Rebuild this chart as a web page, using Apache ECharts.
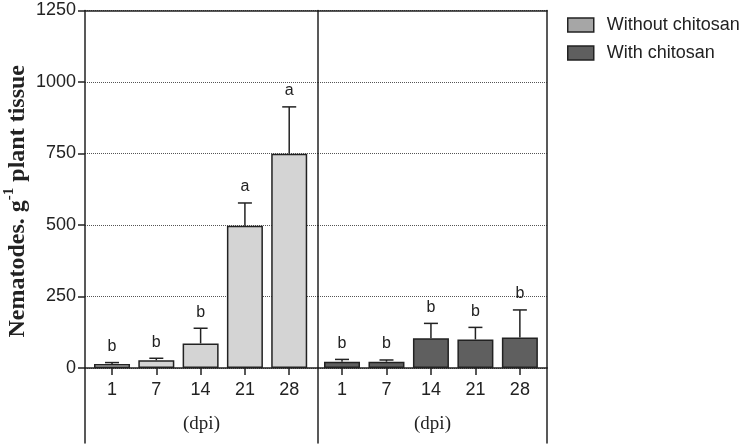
<!DOCTYPE html>
<html>
<head>
<meta charset="utf-8">
<script src="https://cdn.jsdelivr.net/npm/echarts@6/dist/echarts.min.js"></script>
<style>
  html, body { margin: 0; padding: 0; background: #fff; }
  #chart { width: 749px; height: 447px; }
</style>
</head>
<body>
<div id="chart"></div>
<script>
// days post inoculation
const dpiLabels = ["1", "7", "14", "21", "28"];
const dpiPos = [1, 2, 3, 4, 5];

// nematodes per g plant tissue (mean, error bar, letter)
const withoutMean = [14, 27, 86, 497, 749];
const withoutErr = [5, 7, 53, 80, 164];
const withoutLetters = ["b", "b", "b", "a", "a"];

const withMean = [22, 22, 104, 100, 107];
const withErr = [8, 6, 52, 42, 96];
const withLetters = ["b", "b", "b", "b", "b"];

const ink = "#222";
const sans = "'Liberation Sans', Arial, sans-serif";
const serif = "'Liberation Serif', 'Times New Roman', serif";

const chart = echarts.init(document.getElementById("chart"));

function errorBars(letters) {
  return function (params, api) {
    const x = api.value(0);
    const m = api.value(1);
    const e = api.value(2);
    const base = api.coord([x, m]);
    const top = api.coord([x, m + e]);
    const st = { stroke: ink, lineWidth: 1.5 };
    return {
      type: "group",
      children: [
        { type: "line", shape: { x1: base[0], y1: base[1], x2: top[0], y2: top[1] }, style: st },
        { type: "line", shape: { x1: top[0] - 7, y1: top[1], x2: top[0] + 7, y2: top[1] }, style: st },
        {
          type: "text",
          x: top[0],
          y: top[1] - 16,
          style: {
            text: letters[params.dataIndex],
            fill: ink,
            font: "16px " + sans,
            align: "center",
            verticalAlign: "middle",
          },
        },
      ],
    };
  };
}

const lineSt = { color: ink, width: 1.5 };

function xAxisFor(gridIndex, min, max) {
  return {
    type: "value",
    gridIndex: gridIndex,
    min: min,
    max: max,
    axisLine: { show: true, lineStyle: lineSt },
    axisTick: { show: true, customValues: dpiPos, length: 7, lineStyle: lineSt },
    axisLabel: {
      customValues: dpiPos,
      formatter: (v) => dpiLabels[dpiPos.indexOf(v)],
      fontSize: 18,
      color: ink,
      margin: 13,
      fontFamily: sans,
    },
    splitLine: { show: false },
    name: "(dpi)",
    nameLocation: "middle",
    nameGap: 47,
    nameTextStyle: { fontFamily: serif, fontSize: 19, color: ink },
  };
}

// bare axis used only for its line (frame edges)
function frameAxis(gridIndex, position) {
  return {
    type: "value",
    gridIndex: gridIndex,
    position: position,
    min: 0,
    max: 1,
    axisLine: { show: true, onZero: false, lineStyle: lineSt },
    axisTick: { show: false },
    axisLabel: { show: false },
    splitLine: { show: false },
  };
}

function yAxisFor(gridIndex, position, labels, grid) {
  return {
    type: "value",
    gridIndex: gridIndex,
    position: position,
    min: 0,
    max: 1250,
    interval: 250,
    axisLine: { show: true, onZero: false, lineStyle: lineSt },
    axisTick: { show: labels, length: 7, lineStyle: lineSt },
    axisLabel: {
      show: labels,
      formatter: (v) => String(v),
      fontSize: 18,
      color: ink,
      margin: 9,
      fontFamily: sans,
    },
    splitLine: { show: grid, lineStyle: { type: "dotted", color: "#555", width: 1 } },
  };
}

const option = {
  animation: false,
  backgroundColor: "#fff",
  textStyle: { fontFamily: sans },
  legend: {
    orient: "vertical",
    left: 562,
    top: 11,
    itemWidth: 26,
    itemHeight: 14,
    itemGap: 10,
    icon: "rect",
    textStyle: { fontSize: 18, color: ink, fontFamily: sans, padding: [0, 0, 0, 8] },
    data: [
      { name: "Without chitosan", itemStyle: { color: "#a6a6a6", borderColor: ink, borderWidth: 1.5 } },
      { name: "With chitosan", itemStyle: { color: "#5f5f5f", borderColor: ink, borderWidth: 1.5 } },
    ],
  },
  grid: [
    { left: 85, top: 10.5, width: 233, height: 357.5, outerBoundsMode: "none" },
    { left: 318, top: 10.5, width: 229, height: 357.5, outerBoundsMode: "none" },
    // strips under the axis, only the frame lines run down through them
    { left: 85, top: 368, width: 233, height: 75, outerBoundsMode: "none" },
    { left: 318, top: 368, width: 229, height: 75, outerBoundsMode: "none" },
  ],
  xAxis: [
    xAxisFor(0, 0.39, 5.65),
    xAxisFor(1, 0.46, 5.61),
    frameAxis(0, "top"),
    frameAxis(1, "top"),
    Object.assign(frameAxis(2, "bottom"), { axisLine: { show: false } }),
    Object.assign(frameAxis(3, "bottom"), { axisLine: { show: false } }),
  ],
  yAxis: [
    yAxisFor(0, "left", true, true),
    yAxisFor(1, "left", false, true),
    yAxisFor(1, "right", false, false),
    frameAxis(2, "left"),
    frameAxis(3, "left"),
    frameAxis(3, "right"),
  ],
  series: [
    {
      name: "Without chitosan",
      type: "bar",
      xAxisIndex: 0,
      yAxisIndex: 0,
      barWidth: 36,
      itemStyle: { color: "#d4d4d4", borderColor: ink, borderWidth: 1.5 },
      data: dpiPos.map((p, i) => [p, withoutMean[i]]),
      z: 3,
    },
    {
      name: "With chitosan",
      type: "bar",
      xAxisIndex: 1,
      yAxisIndex: 1,
      barWidth: 36,
      itemStyle: { color: "#5f5f5f", borderColor: ink, borderWidth: 1.5 },
      data: dpiPos.map((p, i) => [p, withMean[i]]),
      z: 3,
    },
    {
      name: "errWithout",
      type: "custom",
      xAxisIndex: 0,
      yAxisIndex: 0,
      renderItem: errorBars(withoutLetters),
      data: dpiPos.map((p, i) => [p, withoutMean[i], withoutErr[i]]),
      z: 4,
    },
    {
      name: "errWith",
      type: "custom",
      xAxisIndex: 1,
      yAxisIndex: 1,
      renderItem: errorBars(withLetters),
      data: dpiPos.map((p, i) => [p, withMean[i], withErr[i]]),
      z: 4,
    },
  ],
};

// y axis title with superscript
Object.assign(option.yAxis[0], {
  name: "{b|Nematodes. g}{s|-1}{b| plant tissue}",
  nameLocation: "middle",
  nameGap: 55,
  nameTextStyle: {
    padding: [0, 24, 0, 0],
    rich: {
      b: { fontFamily: serif, fontWeight: "bold", fontSize: 24, color: ink, lineHeight: 28, verticalAlign: "bottom" },
      s: { fontFamily: serif, fontWeight: "bold", fontSize: 15, color: ink, lineHeight: 28, verticalAlign: "top" },
    },
  },
});

chart.setOption(option);
</script>
</body>
</html>
